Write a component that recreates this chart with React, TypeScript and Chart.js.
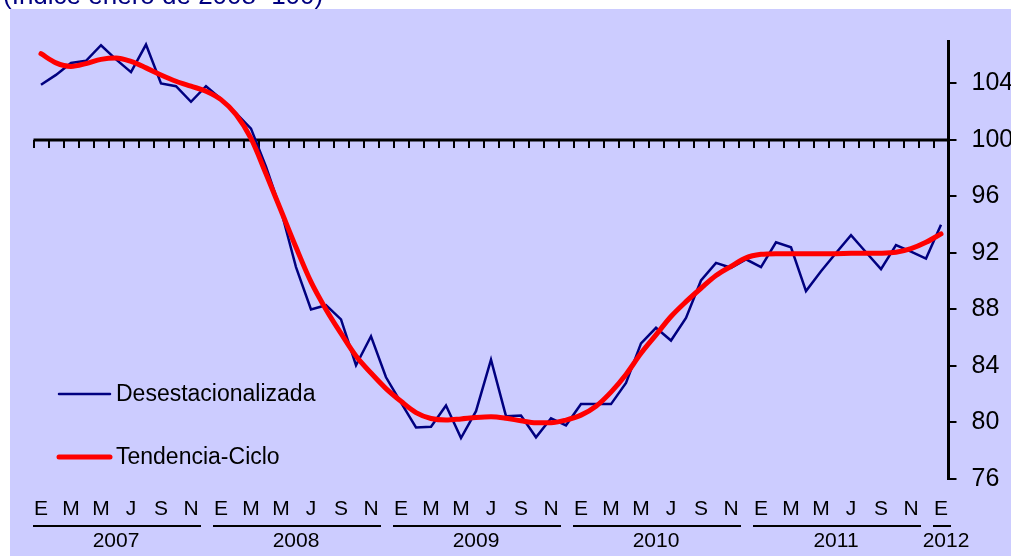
import React, { useEffect, useRef } from "react";
import { Chart, registerables } from "chart.js";

Chart.register(...registerables);

const W = 1011;
const H = 556;

const TITLE = "(Índice enero de 2008=100)";
const YEARS = ["2007", "2008", "2009", "2010", "2011", "2012"];
const MONTH_LETTERS = ["E", "F", "M", "A", "M", "J", "J", "A", "S", "O", "N", "D"];
const SERIES_NAMES = ["Desestacionalizada", "Tendencia-Ciclo"];

const DESESTACIONALIZADA = [
  103.9, 104.6, 105.45, 105.6, 106.7, 105.7, 104.8, 106.75, 104.0, 103.8, 102.7, 103.8,
  102.9, 101.9, 100.8, 98.1, 95.0, 91.0, 88.0, 88.3, 87.3, 84.05, 86.1, 83.2,
  81.4, 79.65, 79.7, 81.2, 78.9, 80.8, 84.45, 80.45, 80.5, 78.95, 80.3, 79.8,
  81.3, 81.3, 81.3, 82.8, 85.6, 86.7, 85.8, 87.4, 90.05, 91.3, 90.95, 91.55,
  91.0, 92.75, 92.4, 89.3, 90.7, 92.0, 93.25, 92.05, 90.85, 92.55, 92.1, 91.6,
  94.0,
];

const TENDENCIA_CICLO = [
  106.1, 105.45, 105.2, 105.4, 105.7, 105.8, 105.55, 105.1, 104.6, 104.15, 103.8, 103.45,
  102.85, 101.8, 100.1, 97.6, 95.0, 92.4, 89.95, 88.0, 86.3, 84.7, 83.5, 82.4,
  81.5, 80.7, 80.28, 80.17, 80.25, 80.35, 80.4, 80.3, 80.12, 79.98, 79.98, 80.17,
  80.52, 81.15, 82.15, 83.4, 84.9, 86.2, 87.5, 88.55, 89.5, 90.4, 91.05, 91.65,
  91.9, 91.95, 91.95, 91.95, 91.95, 91.95, 91.97, 91.97, 91.98, 92.05, 92.3, 92.75,
  93.35,
];

const Y_TICKS = [76, 80, 84, 88, 92, 96, 100, 104];
const Y_MIN = 76;
const Y_MAX = 107;
const REF_VALUE = 100;

const LABELS = DESESTACIONALIZADA.map(
  (_, i) => `${YEARS[Math.floor(i / 12)]}-${MONTH_LETTERS[i % 12]}`
);

const FONT = '"Liberation Sans", Arial, sans-serif';
const BLUE = "#000080";
const RED = "#FF0000";
const BG = "#CCCCFF";

const decorPlugin = {
  id: "decor",
  beforeDraw(chart: any) {
    const ctx = chart.ctx;
    ctx.save();
    ctx.fillStyle = "#ffffff";
    ctx.fillRect(0, 0, W, H);
    ctx.fillStyle = BG;
    ctx.fillRect(10, 9, W - 10, H - 9);
    ctx.fillStyle = BLUE;
    ctx.font = `26px ${FONT}`;
    ctx.textAlign = "left";
    ctx.textBaseline = "alphabetic";
    ctx.fillText(TITLE, 3, 4);
    ctx.restore();
  },
  beforeDatasetsDraw(chart: any) {
    const ctx = chart.ctx;
    const xs = chart.scales.x;
    const ys = chart.scales.y;
    const bw = xs.getPixelForValue(1) - xs.getPixelForValue(0);
    const yy = ys.getPixelForValue(REF_VALUE);
    const left = xs.getPixelForValue(0) - bw / 2;
    ctx.save();
    ctx.strokeStyle = "#000";
    ctx.lineWidth = 3;
    ctx.beginPath();
    ctx.moveTo(left, yy);
    ctx.lineTo(chart.chartArea.right, yy);
    ctx.stroke();
    ctx.lineWidth = 2;
    ctx.beginPath();
    for (let i = 0; i < LABELS.length; i++) {
      const tx = Math.round(xs.getPixelForValue(i) - bw / 2);
      ctx.moveTo(tx, yy);
      ctx.lineTo(tx, yy + 8);
    }
    ctx.stroke();
    ctx.restore();
  },
  afterDraw(chart: any) {
    const ctx = chart.ctx;
    const xs = chart.scales.x;
    const bottom = chart.chartArea.bottom;
    ctx.save();
    YEARS.forEach((yr, k) => {
      const first = k * 12;
      const lastIdx = Math.min(first + 11, LABELS.length - 1);
      let lastLabeled = first;
      for (let i = first; i <= lastIdx; i++) if ((i % 12) % 2 === 0) lastLabeled = i;
      const x0 = xs.getPixelForValue(first);
      const x1 = xs.getPixelForValue(lastLabeled);
      ctx.strokeStyle = "#000";
      ctx.lineWidth = 2;
      ctx.beginPath();
      ctx.moveTo(x0 - 8, bottom + 47);
      ctx.lineTo(x1 + 10, bottom + 47);
      ctx.stroke();
      ctx.fillStyle = "#000";
      ctx.font = `21px ${FONT}`;
      ctx.textAlign = "center";
      ctx.textBaseline = "middle";
      ctx.fillText(yr, (x0 + x1) / 2 + (lastLabeled === first ? 5 : 0), bottom + 62);
    });
    const items = [
      { name: SERIES_NAMES[0], color: BLUE, width: 2.5, y: 394 },
      { name: SERIES_NAMES[1], color: RED, width: 5, y: 457 },
    ];
    items.forEach((it) => {
      ctx.strokeStyle = it.color;
      ctx.lineWidth = it.width;
      ctx.lineCap = "round";
      ctx.beginPath();
      ctx.moveTo(59, it.y);
      ctx.lineTo(110, it.y);
      ctx.stroke();
      ctx.fillStyle = "#000";
      ctx.font = `23px ${FONT}`;
      ctx.textAlign = "left";
      ctx.textBaseline = "middle";
      ctx.fillText(it.name, 116, it.y + 1);
    });
    ctx.restore();
  },
};

export default function App() {
  const ref = useRef<HTMLCanvasElement | null>(null);
  useEffect(() => {
    if (!ref.current) return;
    const chart = new Chart(ref.current, {
      type: "line",
      data: {
        labels: LABELS,
        datasets: [
          {
            label: SERIES_NAMES[0],
            data: DESESTACIONALIZADA,
            borderColor: BLUE,
            borderWidth: 2.5,
            pointRadius: 0,
            tension: 0,
            order: 2,
          },
          {
            label: SERIES_NAMES[1],
            data: TENDENCIA_CICLO,
            borderColor: RED,
            borderWidth: 5,
            pointRadius: 0,
            cubicInterpolationMode: "monotone",
            borderCapStyle: "round",
            order: 1,
          },
        ],
      },
      options: {
        responsive: false,
        animation: false,
        layout: { padding: { left: 33.5, top: 41, right: 0, bottom: 0 } },
        plugins: { legend: { display: false }, tooltip: { enabled: false }, title: { display: false } },
        scales: {
          x: {
            type: "category",
            offset: true,
            grid: { display: false, drawTicks: false },
            border: { display: false },
            ticks: {
              autoSkip: false,
              maxRotation: 0,
              minRotation: 0,
              padding: 18,
              color: "#000",
              font: { size: 21, family: FONT },
              callback: (_v: any, i: number) => ((i % 12) % 2 === 0 ? MONTH_LETTERS[i % 12] : ""),
            },
            afterFit: (s: any) => {
              s.height = 77;
            },
          },
          y: {
            position: "right",
            min: Y_MIN,
            max: Y_MAX,
            afterBuildTicks: (s: any) => {
              s.ticks = Y_TICKS.map((v) => ({ value: v }));
            },
            grid: {
              drawOnChartArea: false,
              drawTicks: true,
              tickLength: 8,
              tickColor: "#000",
              tickWidth: 2,
              color: "#000",
              lineWidth: 2,
            },
            border: { display: true, color: "#000", width: 3 },
            ticks: {
              padding: 15,
              color: "#000",
              font: { size: 25, family: FONT },
            },
            afterFit: (s: any) => {
              s.width = 62.5;
            },
          },
        },
      },
      plugins: [decorPlugin],
    } as any);
    return () => chart.destroy();
  }, []);
  return (
    <canvas
      ref={ref}
      width={W}
      height={H}
      style={{ position: "absolute", left: 0, top: 0, display: "block" }}
    />
  );
}
